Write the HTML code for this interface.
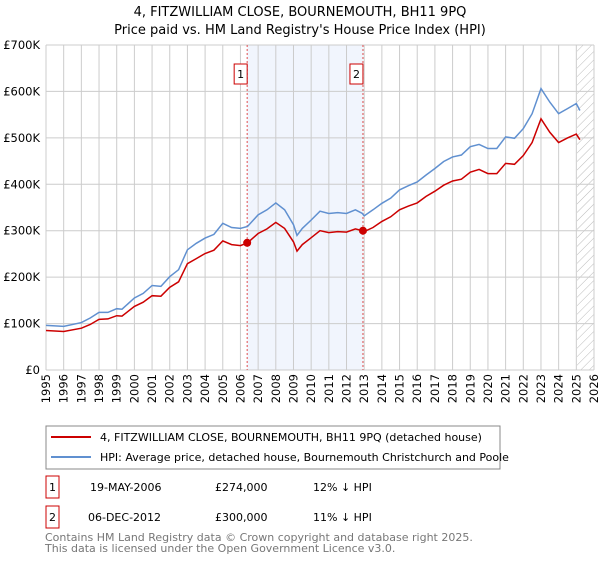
<!DOCTYPE html>
<html><head><meta charset="utf-8"><style>
body{margin:0;background:#fff;font-family:"Liberation Sans","DejaVu Sans",sans-serif;}
svg text{font-family:"DejaVu Sans","Liberation Sans",sans-serif;}
</style></head><body>
<svg id="c" width="600" height="560" xmlns="http://www.w3.org/2000/svg">
<text x="300" y="16" text-anchor="middle" font-size="13">4, FITZWILLIAM CLOSE, BOURNEMOUTH, BH11 9PQ</text>
<text x="300" y="34" text-anchor="middle" font-size="13">Price paid vs. HM Land Registry's House Price Index (HPI)</text>
<g id="grid"></g><g id="marks"></g>
<rect x="46" y="426" width="454" height="43" fill="#fff" stroke="#888"/>
<line x1="51" y1="437" x2="91" y2="437" stroke="#cc0000" stroke-width="2"/>
<text x="100" y="441" font-size="11">4, FITZWILLIAM CLOSE, BOURNEMOUTH, BH11 9PQ (detached house)</text>
<line x1="51" y1="457" x2="91" y2="457" stroke="#6090d0" stroke-width="2"/>
<text x="100" y="461" font-size="11">HPI: Average price, detached house, Bournemouth Christchurch and Poole</text>
<rect x="46" y="476" width="13" height="22" fill="#fff" stroke="#cc0000"/>
<text x="52.5" y="491" font-size="11" text-anchor="middle">1</text>
<text x="90" y="491" font-size="11">19-MAY-2006</text>
<text x="215" y="491" font-size="11">£274,000</text>
<text x="313" y="491" font-size="11">12% ↓ HPI</text>
<rect x="46" y="506" width="13" height="22" fill="#fff" stroke="#cc0000"/>
<text x="52.5" y="521" font-size="11" text-anchor="middle">2</text>
<text x="88" y="521" font-size="11">06-DEC-2012</text>
<text x="215" y="521" font-size="11">£300,000</text>
<text x="313" y="521" font-size="11">11% ↓ HPI</text>
<text x="45" y="541" font-size="11" fill="#777">Contains HM Land Registry data © Crown copyright and database right 2025.</text>
<text x="45" y="552" font-size="11" fill="#777">This data is licensed under the Open Government Licence v3.0.</text>
</svg>
<script>
const years=[1995,1996,1997,1997.5,1998,1998.5,1999,1999.3,2000,2000.5,2001,2001.5,2002,2002.5,2003,2003.5,2004,2004.5,2005,2005.5,2006,2006.4,2007,2007.5,2008,2008.5,2009,2009.2,2009.5,2010,2010.5,2011,2011.5,2012,2012.5,2012.9,2013,2013.5,2014,2014.5,2015,2015.5,2016,2016.5,2017,2017.5,2018,2018.5,2019,2019.5,2020,2020.5,2021,2021.5,2022,2022.5,2023,2023.5,2024,2024.5,2025,2025.2];
const hpi=[96,94,102,112,124,124,132,131,155,165,182,180,201,216,259,273,284,292,316,307,305,309,334,345,360,345,313,290,305,323,342,337,339,337,345,337,332,345,359,370,388,397,405,420,434,449,459,463,481,486,477,477,502,499,520,552,606,577,552,563,574,559];
const prop=[85,83,90,98,109,110,117,116,137,146,160,159,178,190,229,240,251,258,278,270,268,274,294,304,318,305,276,256,270,285,300,296,298,297,304,300,298,307,320,330,345,353,360,374,385,398,407,411,426,432,423,423,445,443,462,490,541,512,490,500,508,496];
const saleYears=[2006.38,2012.93];
const salePrices=[274,300];
const saleLabels=["1","2"];
const yTicks=[0,100,200,300,400,500,600,700];
const yTickLabels=["£0","£100K","£200K","£300K","£400K","£500K","£600K","£700K"];
const xTicks=[];for(let y=1995;y<=2026;y++)xTicks.push(y);
const NS="http://www.w3.org/2000/svg";
const X0=46,X1=594,Y0=370,Y1=45;
const xs=v=>X0+(v-1995)/(2026-1995)*(X1-X0);
const ys=v=>Y0-v/700*(Y0-Y1);
function mk(t,a,p){const e=document.createElementNS(NS,t);for(const k in a)e.setAttribute(k,a[k]);p.appendChild(e);return e;}
const g=document.getElementById('grid'),m=document.getElementById('marks');
// shaded region
const sh=mk('rect',{x:xs(saleYears[0]),y:Y1,width:xs(saleYears[1])-xs(saleYears[0]),height:Y0-Y1,fill:'#eef3fc',opacity:0.8},g);


// hatch
const defs=mk('defs',{},g);
const pat=mk('pattern',{id:'h',width:6,height:6,patternUnits:'userSpaceOnUse',patternTransform:'rotate(45)'},defs);
mk('line',{x1:0,y1:0,x2:0,y2:6,stroke:'#bbb','stroke-width':1},pat);
const ht=mk('rect',{x:xs(2025.04),y:Y1,width:X1-xs(2025.04),height:Y0-Y1,fill:'url(#h)'},g);


xTicks.forEach(v=>{
 const l=mk('line',{x1:xs(v),y1:Y1,x2:xs(v),y2:Y0,stroke:'#ccc','stroke-width':1},g);
 
 
 const t=mk('text',{x:0,y:0,'font-size':11.5,'text-anchor':'end',transform:`translate(${xs(v)+4},374) rotate(-90)`},g);
 t.textContent=v;
 
 
});
yTicks.forEach((v,i)=>{
 const l=mk('line',{x1:X0,y1:ys(v),x2:X1,y2:ys(v),stroke:'#ccc','stroke-width':1},g);
 
 
 const t=mk('text',{x:40,y:ys(v)+4,'font-size':11.5,'text-anchor':'end'},g);
 t.textContent=yTickLabels[i];
 
 
});
saleYears.forEach((v,i)=>{
 const l=mk('line',{x1:xs(v),y1:Y1,x2:xs(v),y2:Y0,stroke:'#e05050','stroke-width':1,'stroke-dasharray':'2,2'},m);
 
 
 const r=mk('rect',{x:xs(v)-13,y:64,width:13,height:20,fill:'#fff',stroke:'#cc0000'},m);
 
 
 const t=mk('text',{x:xs(v)-6.5,y:78,'font-size':11,'text-anchor':'middle'},m);
 t.textContent=saleLabels[i];
 
 
});
const pts=a=>a.map((v,i)=>xs(years[i]).toFixed(1)+','+ys(v).toFixed(1)).join(' ');
const lh=mk('polyline',{points:pts(hpi),fill:'none',stroke:'#6090d0','stroke-width':1.5},m);


const lp=mk('polyline',{points:pts(prop),fill:'none',stroke:'#cc0000','stroke-width':1.5},m);


saleYears.forEach((v,i)=>{
 const c=mk('circle',{cx:xs(v),cy:ys(salePrices[i]),r:4,fill:'#cc0000'},m);
 
 
});
</script>
</body></html>
